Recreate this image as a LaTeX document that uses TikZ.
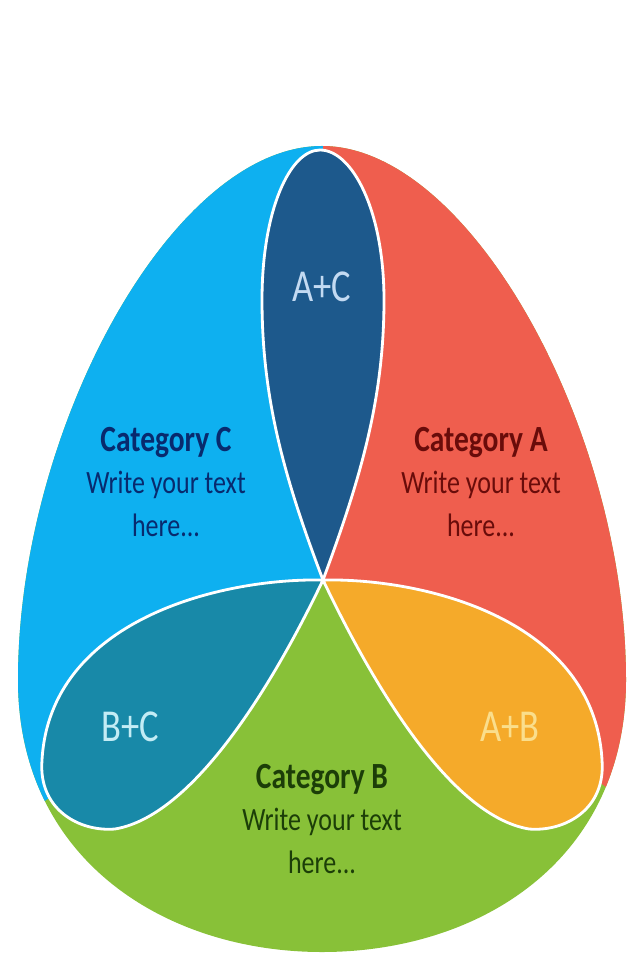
\documentclass[tikz,border=0pt]{standalone}
\usepackage{fontspec}
\setmainfont{Carlito}[FakeStretch=0.8]
\definecolor{catA}{RGB}{239,94,78}
\definecolor{catB}{RGB}{136,193,56}
\definecolor{catC}{RGB}{14,176,240}
\definecolor{catAC}{RGB}{29,89,140}
\definecolor{catBC}{RGB}{24,137,168}
\definecolor{catAB}{RGB}{245,170,42}
\definecolor{txtA}{RGB}{105,12,10}
\definecolor{txtB}{RGB}{28,62,8}
\definecolor{txtC}{RGB}{8,42,110}
\definecolor{pairAC}{RGB}{195,218,242}
\definecolor{pairBC}{RGB}{195,236,245}
\definecolor{pairAB}{RGB}{250,222,140}

\begin{document}
\begin{tikzpicture}[x=0.02cm, y=-0.02cm,
		petal/.style={draw=white, line width=1.6pt},
		cattext/.style={align=center, font=\fontsize{18.5}{24}\selectfont},
		pairtext/.style={font=\fontsize{26}{30}\selectfont}]
		\def\cattitle#1{{\fontsize{21}{24}\selectfont\bfseries #1}}
		\useasboundingbox (0,0) rectangle (629,955);
		\coordinate (o) at (323,580);
		\coordinate (top) at (322,146);
		\begin{scope}
			\clip (top) .. controls (470,146) and (626,430) .. (626,680) .. controls (626,860) and (480,952) .. (322,952) .. controls (166,952) and (18,860) .. (18,680) .. controls (18,430) and (172,146) .. (top) -- cycle;
			\fill[catB] (0,0) rectangle (629,955);
			\fill[catC] (o) -- (323,100) -- (0,100) -- (0,805) -- (40,805) -- cycle;
			\fill[catA] (o) -- (323,100) -- (629,100) -- (629,790) -- (610,790) -- cycle;
		\end{scope}
		\filldraw[petal, fill=catAC] (o) .. controls (285,480) and (262,400) .. (262,300) .. controls (262,210) and (290,150) .. (320,150) .. controls (352,150) and (384,210) .. (384,300) .. controls (384,400) and (360,480) .. (o) -- cycle;
		\filldraw[petal, fill=catBC] (o) .. controls (220,578) and (50,620) .. (42,760) .. controls (38,810) and (80,832) .. (115,829) .. controls (198,815) and (280,670) .. (o) -- cycle;
		\filldraw[petal, fill=catAB] (o) .. controls (426,578) and (594,620) .. (602,760) .. controls (606,810) and (564,832) .. (529,829) .. controls (446,815) and (366,670) .. (o) -- cycle;
		\node[cattext, text=txtC] (catc) at (166,482) {\cattitle{Category C}\\Write your text\\here...};
		\node[cattext, text=txtA] (cata) at (481,482) {\cattitle{Category A}\\Write your text\\here...};
		\node[cattext, text=txtB] (catb) at (322,819) {\cattitle{Category B}\\Write your text\\here...};
		\node[pairtext, text=pairAC] (ac) at (322,287) {A+C};
		\node[pairtext, text=pairBC] (bc) at (130,727) {B+C};
		\node[pairtext, text=pairAB] (ab) at (510,727) {A+B};
	\end{tikzpicture}
\end{document}
